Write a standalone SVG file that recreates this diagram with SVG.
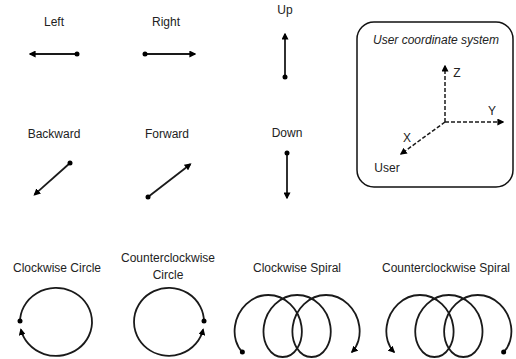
<svg xmlns="http://www.w3.org/2000/svg" width="516" height="359" viewBox="0 0 516 359">
<style>
text{font-family:"Liberation Sans",Arial,sans-serif;font-size:12px;fill:#222;text-anchor:middle}
.ln{fill:none;stroke:#1a1a1a;stroke-width:1.8}
.dash{fill:none;stroke:#1a1a1a;stroke-width:1.5;stroke-dasharray:4 2}
.dot{fill:#000}
.box{fill:#fff;stroke:#111;stroke-width:1.5}
</style>
<defs>
<marker id="ah" viewBox="0 0 10 10" refX="8" refY="5" markerWidth="7" markerHeight="7" orient="auto" markerUnits="userSpaceOnUse">
<path d="M0,0 L10,5 L0,10 z" fill="#000"/>
</marker>
</defs>
<rect width="516" height="359" fill="#fff"/>

<g id="left"><text x="54" y="26">Left</text></g>
<g id="right"><text x="166" y="26">Right</text></g>
<g id="up"><text x="285" y="14">Up</text></g>
<g id="backward"><text x="54" y="138">Backward</text></g>
<g id="forward"><text x="167" y="138">Forward</text></g>
<g id="down"><text x="287" y="137">Down</text></g>
<g id="cw-circle-label"><text x="57" y="272">Clockwise Circle</text></g>
<g id="ccw-circle-label"><text x="168" y="262">Counterclockwise</text><text x="168" y="279">Circle</text></g>
<g id="cw-spiral-label"><text x="297" y="272">Clockwise Spiral</text></g>
<g id="ccw-spiral-label"><text x="446" y="272">Counterclockwise Spiral</text></g>

<g id="user-coordinate-system">
<rect class="box" x="357" y="22" width="156" height="165" rx="17" ry="17"/>
<text x="436" y="44" style="font-style:italic">User coordinate system</text>
<text x="457" y="77">Z</text>
<text x="492" y="115">Y</text>
<text x="407" y="142">X</text>
<text x="387" y="172">User</text>
<path class="dash" d="M445,122 L445,66" marker-end="url(#ah)"/>
<path class="dash" d="M445,122 L503,122" marker-end="url(#ah)"/>
<path class="dash" d="M445,122 L401,154" marker-end="url(#ah)"/>
</g>

<g id="connectors">
<path class="ln" d="M77,54 L30,54" marker-end="url(#ah)"/><circle class="dot" cx="77" cy="54" r="2.5"/>
<path class="ln" d="M145,54 L195,54" marker-end="url(#ah)"/><circle class="dot" cx="145" cy="54" r="2.5"/>
<path class="ln" d="M285,77 L285,34" marker-end="url(#ah)"/><circle class="dot" cx="285" cy="77" r="2.5"/>
<path class="ln" d="M70,163 L34.5,194.7" marker-end="url(#ah)"/><circle class="dot" cx="70" cy="163" r="2.5"/>
<path class="ln" d="M148,197 L190.4,164.2" marker-end="url(#ah)"/><circle class="dot" cx="148" cy="197" r="2.5"/>
<path class="ln" d="M287,153 L287,198" marker-end="url(#ah)"/><circle class="dot" cx="287" cy="153" r="2.5"/>

<path class="ln" d="M20,322 A36 34 0 1 1 20.9,329.5" marker-end="url(#ah)"/><circle class="dot" cx="20" cy="321" r="2.5"/>
<path class="ln" d="M204,322 A35 34 0 1 0 203.1,329.5" marker-end="url(#ah)"/><circle class="dot" cx="204" cy="321" r="2.5"/>

<path class="ln" marker-end="url(#ah)" d="M242.35,352.09 C236.47,346.39 233.44,336.54 235,326 C237.41,308.88 251.46,295 268.23,295 C285,295 299.04,308.88 301.45,326 C303.86,343.12 294.63,357 282.68,357 C270.73,357 261.49,343.12 263.9,326 C266.31,308.88 280.36,295 297.13,295 C313.9,295 327.94,308.88 330.35,326 C332.76,343.12 323.53,357 311.58,357 C299.63,357 290.4,343.12 292.81,326 C295.22,308.88 309.26,295 326.03,295 C342.8,295 356.85,308.88 359.26,326 C360.82,336.54 357.79,346.39 351.91,352.09"/>
<circle class="dot" cx="242.35" cy="352.09" r="2.5"/>

<g transform="translate(746,0) scale(-1,1)">
<path class="ln" marker-end="url(#ah)" d="M242.35,352.09 C236.47,346.39 233.44,336.54 235,326 C237.41,308.88 251.46,295 268.23,295 C285,295 299.04,308.88 301.45,326 C303.86,343.12 294.63,357 282.68,357 C270.73,357 261.49,343.12 263.9,326 C266.31,308.88 280.36,295 297.13,295 C313.9,295 327.94,308.88 330.35,326 C332.76,343.12 323.53,357 311.58,357 C299.63,357 290.4,343.12 292.81,326 C295.22,308.88 309.26,295 326.03,295 C342.8,295 356.85,308.88 359.26,326 C360.82,336.54 357.79,346.39 351.91,352.09"/>
<circle class="dot" cx="242.35" cy="352.09" r="2.5"/>
</g>
</g>
</svg>
